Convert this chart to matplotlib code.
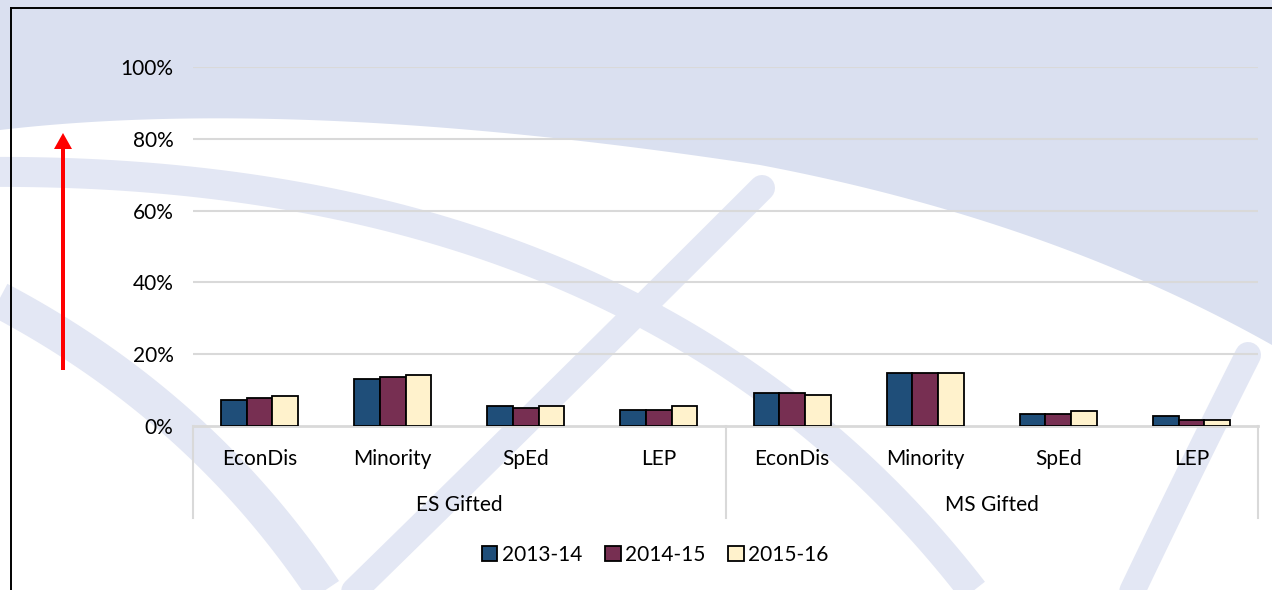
import matplotlib
matplotlib.use("Agg")
import matplotlib.pyplot as plt
import numpy as np
from matplotlib.patches import Polygon, FancyArrow
from matplotlib.lines import Line2D

plt.rcParams['font.family'] = ['Lato', 'DejaVu Sans']

groups = ["ES Gifted", "MS Gifted"]
categories = ["EconDis", "Minority", "SpEd", "LEP"]
series_names = ["2013-14", "2014-15", "2015-16"]
values_2013 = [7.2, 13.0, 5.7, 4.5, 9.1, 14.8, 3.4, 2.9]
values_2014 = [7.9, 13.6, 5.1, 4.5, 9.1, 14.8, 3.4, 1.7]
values_2015 = [8.4, 14.2, 5.7, 5.7, 8.5, 14.8, 4.1, 1.7]
colors = ["#1f4e79", "#772f52", "#fff2cc"]
yticks = [0, 20, 40, 60, 80, 100]

W, H = 1272, 590
fig = plt.figure(figsize=(W / 100, H / 100), dpi=100)

# ---- decorative background ----
bg = fig.add_axes([0, 0, 1, 1], zorder=-10)
bg.set_xlim(0, W)
bg.set_ylim(H, 0)
bg.axis('off')


def bezier(p0, p1, p2, n=100):
    t = np.linspace(0, 1, n)[:, None]
    p0, p1, p2 = map(np.asarray, (p0, p1, p2))
    return (1 - t) ** 2 * p0 + 2 * (1 - t) * t * p1 + t ** 2 * p2


bg.add_patch(Polygon([[0, 0], [W, 0], [W, H], [0, H]], closed=True, color="#dae0f0", lw=0))
c1 = bezier((0, 130), (300, 95), (760, 165))
c2 = bezier((760, 165), (1050, 220), (W, 345))
upper = np.vstack([c1, c2, [[W, H], [0, H]]])
bg.add_patch(Polygon(upper, closed=True, color="white", lw=0))

band = "#e3e7f4"


def band_curve(pts, wpx, cap='butt'):
    bg.plot(pts[:, 0], pts[:, 1], color=band, lw=wpx * 0.72, solid_capstyle=cap)


band_curve(bezier((-20, 172), (650, 165), (980, 600)), 30)
band_curve(bezier((762, 188), (560, 390), (345, 600)), 26, 'round')
band_curve(bezier((-20, 290), (200, 400), (330, 600)), 36)
band_curve(bezier((1248, 355), (1190, 470), (1128, 600)), 26, 'round')

# frame lines
bg.plot([11, 11], [8, H], color="black", lw=1.4)
bg.plot([11, W], [8, 8], color="black", lw=1.4)

# red arrow
bg.add_patch(FancyArrow(63, 370, 0, -237, width=4, head_width=18, head_length=16,
                        length_includes_head=True, color="#ff0000", lw=0, zorder=10))

# ---- main chart ----
left, right = 193 / W, 1258 / W
bottom, top = 1 - 426 / H, 1 - 67 / H
ax = fig.add_axes([left, bottom, right - left, top - bottom])
ax.set_facecolor("none")

n = len(groups) * len(categories)
x = np.arange(n)
bw = 0.193
for i, (vals, c, name) in enumerate(zip([values_2013, values_2014, values_2015], colors, series_names)):
    ax.bar(x + (i - 1) * bw, vals, width=bw, color=c, edgecolor="black", linewidth=1.3,
           label=name, zorder=3)

ax.set_xlim(-0.5, n - 0.5)
ax.set_ylim(0, 100)
ax.set_yticks(yticks)
ax.set_yticklabels([f"{v}%" for v in yticks], fontsize=15)
ax.tick_params(axis='y', length=0, pad=14)
ax.set_xticks([])
for s in ["top", "right", "left"]:
    ax.spines[s].set_visible(False)
ax.spines["bottom"].set_color("#d9d9d9")
ax.spines["bottom"].set_linewidth(2)
for v in yticks[1:]:
    ax.axhline(v, color="#d9d9d9", lw=1.5, zorder=1)

# category labels and group labels
trans = ax.get_xaxis_transform()
px = 1 / (top - bottom) / H  # one pixel in axes-y units
for i in range(n):
    ax.text(x[i], -33 * px, categories[i % len(categories)], transform=trans,
            ha="center", va="center", fontsize=15)
for g, name in enumerate(groups):
    center = g * len(categories) + (len(categories) - 1) / 2
    ax.text(center, -79 * px, name, transform=trans, ha="center", va="center", fontsize=15)
for xb in [-0.5, 3.5, 7.5]:
    ax.add_line(Line2D([xb, xb], [0, -92 * px], transform=trans, color="#d9d9d9",
                       lw=1.5, clip_on=False))

leg = fig.legend(loc="center", bbox_to_anchor=(655 / W, 1 - 555 / H), ncol=3, frameon=False,
                 fontsize=15, handlelength=0.75, handleheight=0.75, handletextpad=0.2,
                 columnspacing=1.1)

fig.savefig("out.png", dpi=100)
